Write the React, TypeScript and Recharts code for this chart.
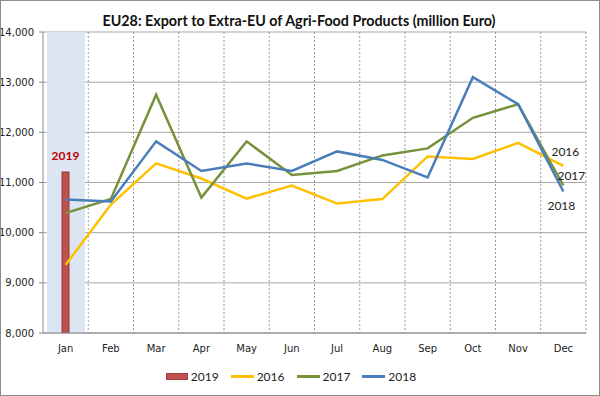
import {
  ComposedChart,
  Bar,
  Line,
  XAxis,
  YAxis,
  CartesianGrid,
  Legend,
  LabelList,
} from "recharts";

const months = ["Jan", "Feb", "Mar", "Apr", "May", "Jun", "Jul", "Aug", "Sep", "Oct", "Nov", "Dec"];
const y2016 = [9360, 10560, 11380, 11080, 10680, 10940, 10580, 10670, 11520, 11470, 11790, 11330];
const y2017 = [10390, 10670, 12750, 10700, 11820, 11150, 11230, 11540, 11680, 12290, 12560, 10940];
const y2018 = [10660, 10620, 11820, 11230, 11380, 11230, 11620, 11450, 11100, 13100, 12560, 10820];
const y2019 = [11210];
const band2019 = [14000];
const yTicks = [8000, 9000, 10000, 11000, 12000, 13000, 14000];

const data = months.map((m, i) => ({
  month: m,
  s2016: y2016[i],
  s2017: y2017[i],
  s2018: y2018[i],
  s2019: y2019[i],
  band: band2019[i],
}));

const COLORS = {
  s2019: "#c0504d",
  s2016: "#ffc000",
  s2017: "#76923c",
  s2018: "#4a7ebb",
};

const legendItems = [
  { key: "s2019", label: "2019", bar: true },
  { key: "s2016", label: "2016" },
  { key: "s2017", label: "2017" },
  { key: "s2018", label: "2018" },
];

// year label next to the last (Dec) point of each line
const endLabel = (text: string, dx: number, dy: number) => (props: any) => {
  const { x, y, index } = props;
  if (index !== months.length - 1) return null;
  return (
    <text x={x + dx} y={y + dy} textAnchor="middle" dominantBaseline="central" fontFamily="Lato" fontSize={12} fill="#222">
      {text}
    </text>
  );
};

const barLabel = (props: any) => {
  const { x, y, width, value } = props;
  if (value == null) return null;
  return (
    <text x={x + width / 2} y={y - 16} textAnchor="middle" dominantBaseline="central" fontFamily="Lato" fontSize={12} fontWeight="bold" fill="#c00000">
      2019
    </text>
  );
};

const renderLegend = () => (
  <div style={{ display: "flex", justifyContent: "center", alignItems: "center", height: 20, fontSize: 12, fontFamily: "Lato", color: "#222", paddingLeft: 8 }}>
    {legendItems.map((it) => (
      <div key={it.key} style={{ display: "flex", alignItems: "center", marginRight: 12 }}>
        {it.bar ? (
          <div style={{ width: 22, height: 7, background: COLORS[it.key as keyof typeof COLORS], border: "1px solid #a04040", boxSizing: "border-box" }} />
        ) : (
          <div style={{ width: 23, height: 3, background: COLORS[it.key as keyof typeof COLORS] }} />
        )}
        <span style={{ marginLeft: 3 }}>{it.label}</span>
      </div>
    ))}
  </div>
);

export default function App() {
  return (
    <div style={{ position: "absolute", top: 0, left: 0, width: 600, height: 396, background: "#fff", fontFamily: "'DejaVu Sans', sans-serif" }}>
      <ComposedChart width={600} height={396} data={data} margin={{ top: 32, right: 14, left: 0, bottom: 10 }} barGap={0}>
        <text x={299} y={20} textAnchor="middle" dominantBaseline="central" fontFamily="Lato" fontWeight="bold" fontSize={14.3} fill="#111">
          EU28: Export to Extra-EU of Agri-Food Products (million Euro)
        </text>
        <CartesianGrid vertical={false} stroke="#a6a6a6" />
        <CartesianGrid
          horizontal={false}
          stroke="#9a9a9a"
          strokeDasharray="2 2"
          verticalCoordinatesGenerator={({ offset }: any) =>
            months.map((_, i) => offset.left + ((i + 1) * offset.width) / months.length)
          }
        />
        <XAxis xAxisId="bg" dataKey="month" hide />
        <XAxis
          dataKey="month"
          height={33}
          tickLine={false}
          tickSize={0}
          tickMargin={12}
          axisLine={{ stroke: "#888" }}
          tick={{ fontSize: 10, fill: "#222" }}
          interval={0}
        />
        <YAxis
          width={43}
          domain={[8000, 14000]}
          ticks={yTicks}
          allowDataOverflow
          tickSize={4}
          tickMargin={5}
          tickFormatter={(v: number) => v.toLocaleString("en-US")}
          axisLine={{ stroke: "#888" }}
          tickLine={{ stroke: "#888" }}
          tick={{ fontSize: 10, fill: "#222" }}
        />
        <Legend verticalAlign="bottom" content={renderLegend} />
        <Bar xAxisId="bg" dataKey="band" barSize={38} fill="#dce6f2" isAnimationActive={false} legendType="none" />
        <Bar dataKey="s2019" barSize={7} fill={COLORS.s2019} stroke="#8c3a38" isAnimationActive={false}>
          <LabelList dataKey="s2019" content={barLabel} />
        </Bar>
        <Line dataKey="s2016" stroke={COLORS.s2016} strokeWidth={2.5} dot={false} isAnimationActive={false}>
          <LabelList dataKey="s2016" content={endLabel("2016", 2, -14)} />
        </Line>
        <Line dataKey="s2017" stroke={COLORS.s2017} strokeWidth={2.5} dot={false} isAnimationActive={false}>
          <LabelList dataKey="s2017" content={endLabel("2017", 8, -10)} />
        </Line>
        <Line dataKey="s2018" stroke={COLORS.s2018} strokeWidth={2.5} dot={false} isAnimationActive={false}>
          <LabelList dataKey="s2018" content={endLabel("2018", -2, 14)} />
        </Line>
      </ComposedChart>
      <div style={{ position: "absolute", inset: 0, border: "1px solid #8c8c8c", pointerEvents: "none" }} />
    </div>
  );
}
